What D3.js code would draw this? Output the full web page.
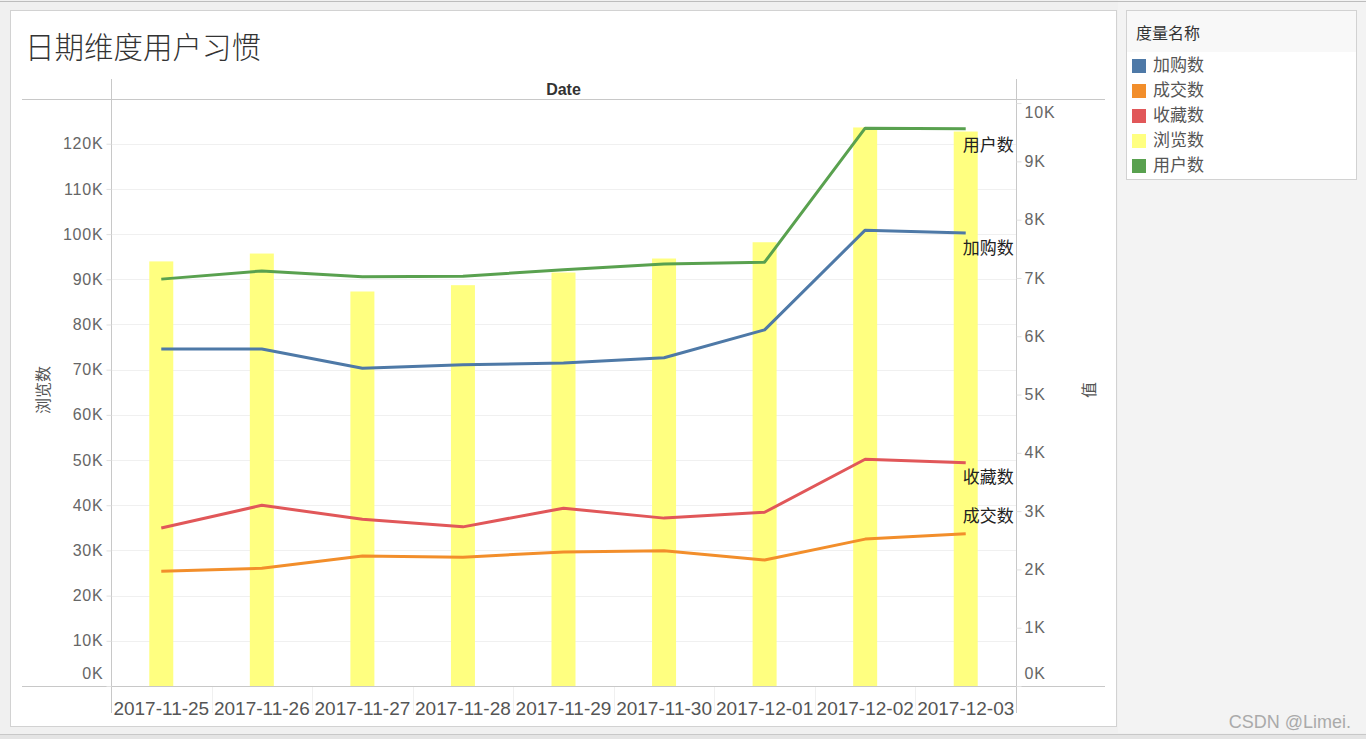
<!DOCTYPE html>
<html><head><meta charset="utf-8">
<script src="https://cdn.jsdelivr.net/npm/d3@7/dist/d3.min.js"></script>
<style>
html,body{margin:0;padding:0;background:#f0f0f0;overflow:hidden;}
svg{display:block;}
</style></head>
<body>
<svg id="c" width="1366" height="739"></svg>
<script>
const dates = ["2017-11-25","2017-11-26","2017-11-27","2017-11-28","2017-11-29","2017-11-30","2017-12-01","2017-12-02","2017-12-03"];
const views = [93960, 95700, 87300, 88700, 91500, 94600, 98200, 123600, 122700];   // 浏览数 (bars, left axis)
const users = [6980, 7120, 7020, 7030, 7140, 7240, 7270, 9570, 9560];               // 用户数
const carts = [5780, 5780, 5450, 5510, 5540, 5630, 6110, 7820, 7770];               // 加购数
const favs  = [2710, 3100, 2860, 2730, 3050, 2880, 2980, 3890, 3830];               // 收藏数
const deals = [1970, 2020, 2230, 2210, 2300, 2320, 2160, 2520, 2610];               // 成交数
const leftTicks = [0,10000,20000,30000,40000,50000,60000,70000,80000,90000,100000,110000,120000];
const rightTicks = [0,1000,2000,3000,4000,5000,6000,7000,8000,9000,10000];
const legendNames = ["加购数","成交数","收藏数","浏览数","用户数"];
const legendColors = ["#4e79a7","#f28e2b","#e15759","#ffff80","#59a14f"];

const svg = d3.select("#c");
const FONT = "'Liberation Sans', Arial, sans-serif";
const CJK = "'Noto Sans CJK SC', sans-serif";

// page background pieces
svg.append("rect").attr("x",0).attr("y",0).attr("width",1366).attr("height",739).attr("fill","#f0f0f0");
svg.append("rect").attr("x",1118).attr("y",0).attr("width",248).attr("height",733).attr("fill","#f3f3f3");
svg.append("line").attr("x1",0).attr("x2",1366).attr("y1",1.5).attr("y2",1.5).attr("stroke","#bdbdbd");
svg.append("line").attr("x1",0).attr("x2",1366).attr("y1",734.5).attr("y2",734.5).attr("stroke","#c8c8c8");
svg.append("rect").attr("x",0).attr("y",735).attr("width",1366).attr("height",4).attr("fill","#e4e4e4");
// chart panel
svg.append("rect").attr("x",10.5).attr("y",10.5).attr("width",1106).attr("height",716).attr("fill","#fff").attr("stroke","#d2d2d2");
// legend panel
svg.append("rect").attr("x",1126.5).attr("y",10.5).attr("width",230).attr("height",169).attr("fill","#fff").attr("stroke","#d2d2d2");
svg.append("rect").attr("x",1127).attr("y",11).attr("width",229).attr("height",41).attr("fill","#f8f8f8");

// title
svg.append("text").attr("x",25).attr("y",58).attr("font-family",CJK).attr("font-size",29.5)
  .attr("font-weight",300).attr("fill","#333").text("日期维度用户习惯");

const L = 111, R = 1016, T = 99, B = 686;
const x = d3.scaleBand().domain(dates).range([L, R]);
const yL = d3.scaleLinear().domain([0, 129900]).range([B, T]);
const yR = d3.scaleLinear().domain([0, 10070]).range([B, T]);

// gridlines
svg.append("g").selectAll("line").data(leftTicks.slice(1)).join("line")
  .attr("x1",L).attr("x2",R).attr("y1",d=>Math.round(yL(d))+0.5).attr("y2",d=>Math.round(yL(d))+0.5)
  .attr("stroke","#f0f0f0");

// frame lines
const frame = svg.append("g").attr("stroke","#c8c8c8").attr("fill","none");
frame.append("line").attr("x1",22).attr("x2",1105).attr("y1",T+0.5).attr("y2",T+0.5);
frame.append("line").attr("x1",22).attr("x2",1105).attr("y1",B+0.5).attr("y2",B+0.5);
frame.append("line").attr("x1",L+0.5).attr("x2",L+0.5).attr("y1",79).attr("y2",713);
frame.append("line").attr("x1",R+0.5).attr("x2",R+0.5).attr("y1",79).attr("y2",713);
// faint separators in date header
svg.append("g").selectAll("line").data(dates.slice(1)).join("line")
  .attr("x1",d=>Math.round(x(d))+0.5).attr("x2",d=>Math.round(x(d))+0.5).attr("y1",B+1).attr("y2",713)
  .attr("stroke","#f0f0f0");

// header
svg.append("text").attr("x",(L+R)/2).attr("y",95).attr("text-anchor","middle")
  .attr("font-family",FONT).attr("font-weight","bold").attr("font-size",16).attr("fill","#333").text("Date");

// bars
const bw = 24;
svg.append("g").selectAll("rect").data(views).join("rect")
  .attr("x",(d,i)=>x(dates[i])+x.bandwidth()/2-bw/2).attr("width",bw)
  .attr("y",d=>yL(d)).attr("height",d=>B-yL(d)).attr("fill","#ffff80");

// lines
const seriesList = [
  {name:"用户数", vals:users, color:"#59a14f", dy:18},
  {name:"加购数", vals:carts, color:"#4e79a7", dy:16},
  {name:"收藏数", vals:favs, color:"#e15759", dy:16},
  {name:"成交数", vals:deals, color:"#f28e2b", dy:-16}
];
const line = d3.line().x((d,i)=>x(dates[i])+x.bandwidth()/2).y(d=>yR(d));
seriesList.forEach(s=>{
  svg.append("path").datum(s.vals).attr("d",line).attr("fill","none")
    .attr("stroke",s.color).attr("stroke-width",3).attr("stroke-linejoin","round");
});
seriesList.forEach(s=>{
  const last = s.vals[s.vals.length-1];
  svg.append("text").attr("x",x(dates[dates.length-1])+x.bandwidth()/2-3).attr("y",yR(last)+s.dy)
    .attr("dominant-baseline","middle").attr("font-family",CJK).attr("font-size",17).attr("fill","#222").text(s.name);
});

// left axis
const fmt = d=>(d/1000)+"K";
const axL = svg.append("g").attr("transform",`translate(${L+0.5},0)`)
  .call(d3.axisLeft(yL).tickValues(leftTicks).tickFormat(fmt).tickSize(5).tickPadding(3));
axL.select(".domain").remove();
axL.selectAll(".tick line").attr("stroke","#e0e0e0");
axL.selectAll(".tick text").attr("font-family",FONT).attr("font-size",16).attr("letter-spacing","0.8px")
  .attr("fill","#666").attr("dy",d=>d===0?"-0.5em":"0.32em");
// right axis
const axR = svg.append("g").attr("transform",`translate(${R+0.5},0)`)
  .call(d3.axisRight(yR).tickValues(rightTicks).tickFormat(fmt).tickSize(5).tickPadding(3));
axR.select(".domain").remove();
axR.selectAll(".tick line").attr("stroke","#e0e0e0");
axR.selectAll(".tick text").attr("font-family",FONT).attr("font-size",16).attr("letter-spacing","0.8px")
  .attr("fill","#666").attr("dy",d=>d===0?"-0.5em":(d===10000?"0.9em":"0.32em"));

// axis titles
svg.append("text").attr("transform","translate(49,390) rotate(-90)").attr("text-anchor","middle")
  .attr("font-family",CJK).attr("font-size",16).attr("fill","#555").text("浏览数");
svg.append("text").attr("transform","translate(1095,390) rotate(-90)").attr("text-anchor","middle")
  .attr("font-family",CJK).attr("font-size",16).attr("fill","#555").text("值");

// x labels
const axB = svg.append("g").attr("transform",`translate(0,${B})`)
  .call(d3.axisBottom(x).tickSize(0).tickPadding(16));
axB.select(".domain").remove();
axB.selectAll(".tick text").attr("font-family",FONT).attr("font-size",19)
  .attr("fill","#555");

// legend
svg.append("text").attr("x",1136).attr("y",39).attr("font-family",CJK).attr("font-size",16).attr("fill","#333").text("度量名称");
const lg = svg.append("g").selectAll("g").data(legendNames).join("g")
  .attr("transform",(d,i)=>`translate(1132,${59+i*25})`);
lg.append("rect").attr("width",14).attr("height",14).attr("fill",(d,i)=>legendColors[i]);
lg.append("text").attr("x",21).attr("y",7).attr("dominant-baseline","middle")
  .attr("font-family",CJK).attr("font-size",17).attr("fill","#555").text(d=>d);

// watermark
svg.append("text").attr("x",1351).attr("y",728).attr("text-anchor","end").attr("font-family",FONT)
  .attr("font-size",18).attr("fill","#aaa").text("CSDN @Limei.");
</script>
</body></html>
